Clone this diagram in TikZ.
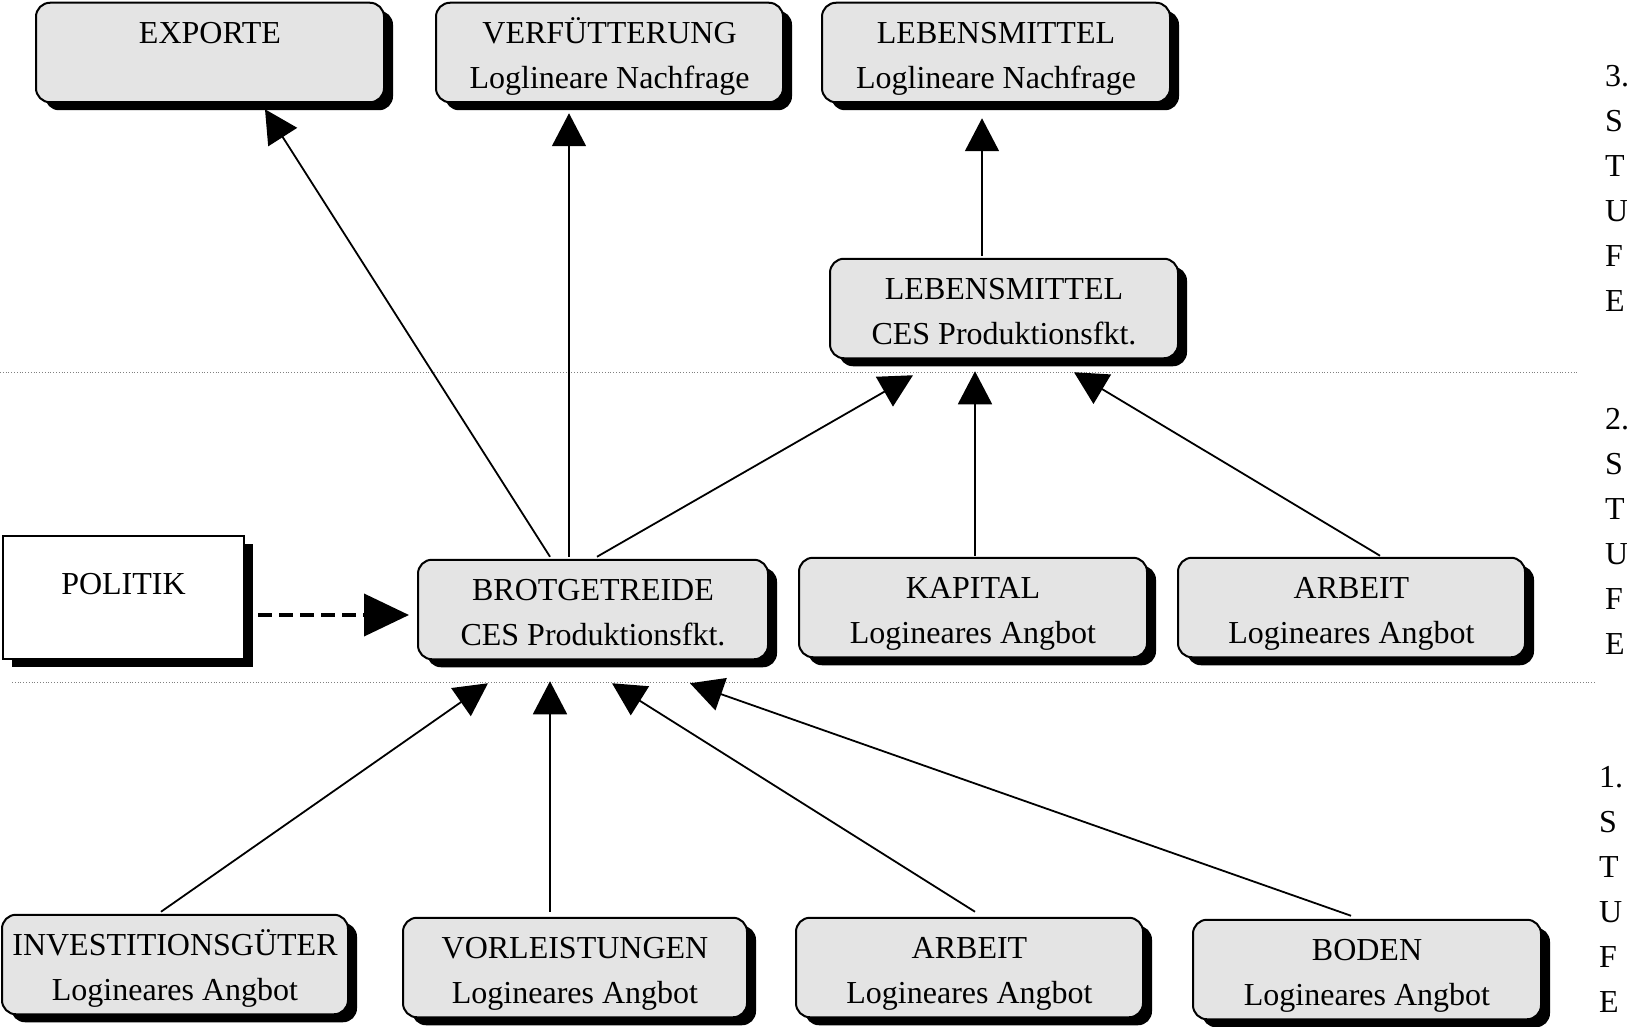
\documentclass[tikz,border=0pt]{standalone}
\usepackage{fontspec}
\setmainfont{Liberation Serif}
\usetikzlibrary{arrows.meta,shadows,calc}
\definecolor{boxgray}{HTML}{E4E4E4}
\newcommand\topstrut{\rule{0pt}{41pt}}
\begin{document}
\begin{tikzpicture}[x=1pt,y=-1pt,
  every node/.style={font=\fontsize{32}{45}\selectfont},
  boxshadow/.style={drop shadow={shadow xshift=9pt,shadow yshift=-8pt,fill=black,opacity=1}},
  stagebox/.style={draw=black,line width=2pt,fill=boxgray,rounded corners=14pt,
    boxshadow,align=center,inner sep=0pt,minimum height=99pt},
  plainbox/.style={draw=black,line width=2pt,fill=white,boxshadow,align=center,inner sep=0pt},
  conn/.style={line width=1.8pt,-{Triangle[length=33pt,width=34pt]}},
  dconn/.style={line width=4pt,dash pattern=on 14pt off 7pt,-{Triangle[length=45pt,width=42pt]}},
  sep/.style={line width=0.8pt,gray,dotted},
  stage/.style={align=left,anchor=north west,inner sep=0pt}
]
\useasboundingbox (0,0) rectangle (1627,1027);

% separator lines
\draw[sep] (0,372) -- (1579,372);
\draw[sep] (12,682) -- (1595,682);

% level 3
\node[stagebox,minimum width=348pt] (exp) at (210,52.5) {\topstrut EXPORTE\\\strut};
\node[stagebox,minimum width=347pt] (verf) at (609.5,52.5) {\topstrut VERFÜTTERUNG\\\strut Loglineare Nachfrage};
\node[stagebox,minimum width=348pt] (lebtop) at (996,52.5) {\topstrut LEBENSMITTEL\\\strut Loglineare Nachfrage};
\node[stagebox,minimum width=348pt] (lebces) at (1004,308.5) {\topstrut LEBENSMITTEL\\\strut CES Produktionsfkt.};

% level 2
\node[plainbox,minimum width=241pt,minimum height=123pt] (politik) at (123.5,597.5) {\rule{0pt}{38pt}POLITIK\\[-15pt]\strut};
\node[stagebox,minimum width=350pt] (brot) at (593,609.5) {\topstrut BROTGETREIDE\\\strut CES Produktionsfkt.};
\node[stagebox,minimum width=348pt] (kap) at (973,607.5) {\topstrut KAPITAL\\\strut Logineares Angbot};
\node[stagebox,minimum width=347pt] (arb2) at (1351.5,607.5) {\topstrut ARBEIT\\\strut Logineares Angbot};

% level 1
\node[stagebox,minimum width=346pt] (inv) at (175,964.5) {\topstrut INVESTITIONSGÜTER\\\strut Logineares Angbot};
\node[stagebox,minimum width=344pt] (vorl) at (575,967.5) {\topstrut VORLEISTUNGEN\\\strut Logineares Angbot};
\node[stagebox,minimum width=347pt] (arb1) at (969.5,967.5) {\topstrut ARBEIT\\\strut Logineares Angbot};
\node[stagebox,minimum width=348pt] (boden) at (1367,969.5) {\topstrut BODEN\\\strut Logineares Angbot};

% stage labels
\node[stage] (s3) at (1605,55) {\strut 3.\\\strut S\\\strut T\\\strut U\\\strut F\\\strut E};
\node[stage] (s2) at (1605,398) {\strut 2.\\\strut S\\\strut T\\\strut U\\\strut F\\\strut E};
\node[stage] (s1) at (1599,756) {\strut 1.\\\strut S\\\strut T\\\strut U\\\strut F\\\strut E};

% connectors
\draw[conn] ($(brot.north)+(-43,-2)$) -- ($(exp.south)+(55,6)$);
\draw[conn] ($(brot.north)+(-24,-2)$) -- ($(verf.south)+(-40.5,10)$);
\draw[conn] ($(lebces.north)+(-22,-2)$) -- ($(lebtop.south)+(-14,15)$);
\draw[conn] ($(brot.north)+(4,-2)$) -- ($(lebces.south)+(-91,16)$);
\draw[conn] ($(kap.north)+(2,-1)$) -- ($(lebces.south)+(-29,12)$);
\draw[conn] ($(arb2.north)+(28.5,-1)$) -- ($(lebces.south)+(70,13)$);
\draw[dconn] ($(politik.east)+(13,17.5)$) -- ($(brot.west)+(-8,5.5)$);
\draw[conn] ($(inv.north)+(-14,-2)$) -- ($(brot.south)+(-105,23)$);
\draw[conn] ($(vorl.north)+(-25,-5)$) -- ($(brot.south)+(-43,21)$);
\draw[conn] ($(arb1.north)+(5.5,-5)$) -- ($(brot.south)+(19,23)$);
\draw[conn] ($(boden.north)+(-16,-3)$) -- ($(brot.south)+(97,23)$);
\end{tikzpicture}
\end{document}
